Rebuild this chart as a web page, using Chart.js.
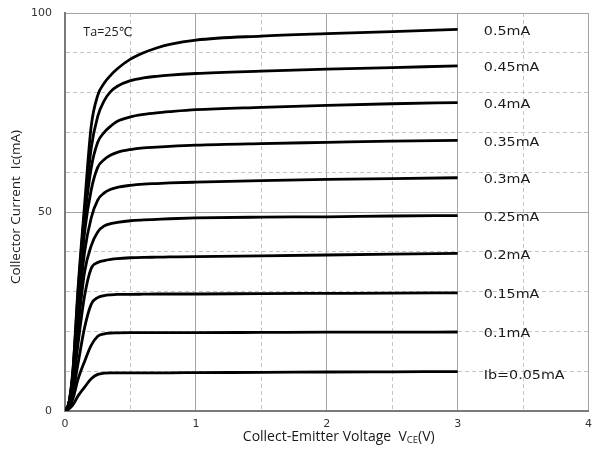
<!DOCTYPE html>
<html>
<head>
<meta charset="utf-8">
<script src="https://cdn.jsdelivr.net/npm/chart.js@4.4.0/dist/chart.umd.min.js"></script>
<style>
  html, body { margin: 0; padding: 0; background: #fff; }
  #wrap { width: 592px; height: 458px; }
</style>
</head>
<body>
<div id="wrap"><canvas id="ibChart" width="592" height="458"></canvas></div>
<script>
// Collector-emitter voltage (V) sample points
var vce = [0, 0.03, 0.06, 0.1, 0.15, 0.2, 0.25, 0.3, 0.35, 0.4, 0.5, 0.6, 0.7, 0.8, 1, 1.5, 2, 2.5, 3];

// Collector current (mA) for each base current
var ic005 = [0, 0.5, 1.5, 3.8, 6, 8.1, 9.2, 9.5, 9.6, 9.6, 9.6, 9.6, 9.6, 9.6, 9.65, 9.7, 9.8, 9.85, 9.9];
var ic010 = [0, 0.8, 3, 8, 12.5, 16.5, 18.8, 19.4, 19.6, 19.65, 19.7, 19.7, 19.7, 19.7, 19.7, 19.75, 19.8, 19.8, 19.85];
var ic015 = [0, 1.2, 4.5, 12, 21, 26.8, 28.5, 29, 29.2, 29.3, 29.3, 29.35, 29.4, 29.4, 29.4, 29.5, 29.55, 29.6, 29.7];
var ic020 = [0, 1.5, 6, 17, 29, 35.8, 37.3, 37.8, 38.1, 38.3, 38.5, 38.6, 38.65, 38.7, 38.8, 39.0, 39.2, 39.4, 39.6];
var ic025 = [0, 1.8, 7, 21, 35, 41.5, 45, 46.5, 47.1, 47.4, 47.8, 48, 48.15, 48.3, 48.5, 48.7, 48.8, 49, 49.1];
var ic030 = [0, 2, 8, 24, 40, 48.5, 53, 54.8, 55.7, 56.2, 56.7, 57, 57.15, 57.3, 57.5, 57.9, 58.2, 58.4, 58.6];
var ic035 = [0, 2, 9, 26, 45, 55.5, 61.2, 63.2, 64.3, 65, 65.7, 66.1, 66.3, 66.5, 66.8, 67.2, 67.5, 67.8, 68.0];
var ic040 = [0, 2, 9, 28, 48, 61, 67.5, 70, 71.6, 72.8, 73.9, 74.5, 74.9, 75.2, 75.7, 76.3, 76.8, 77.2, 77.5];
var ic045 = [0, 2, 10, 30, 50, 66, 74, 78, 80.3, 81.6, 83, 83.7, 84.1, 84.4, 84.8, 85.4, 85.9, 86.3, 86.7];
var ic050 = [0, 2, 10, 31, 52, 71.5, 79.3, 82.4, 84.4, 86, 88.4, 90, 91.2, 92.1, 93.2, 94.2, 94.8, 95.3, 95.9];

var series = [ic005, ic010, ic015, ic020, ic025, ic030, ic035, ic040, ic045, ic050];
var ibLabels = ['Ib=0.05mA', '0.1mA', '0.15mA', '0.2mA', '0.25mA', '0.3mA', '0.35mA', '0.4mA', '0.45mA', '0.5mA'];
var xTicks = [0, 1, 2, 3, 4];
var yTicks = [0, 50, 100];

var datasets = [];
for (var i = 0; i < series.length; i++) {
	var pts = [];
	for (var j = 0; j < vce.length; j++) {
		pts.push({x: vce[j], y: series[i][j]});
	}
	datasets.push({
		label: ibLabels[i],
		data: pts,
		borderColor: '#000',
		borderWidth: 2.8,
		pointRadius: 0,
		fill: false,
		cubicInterpolationMode: 'monotone'
	});
}

var txtFont = '"Open Sans", "DejaVu Sans", sans-serif';

var textPlugin = {
	id: 'texts',
	afterDraw: function(chart) {
		var ctx = chart.ctx;
		var xs = chart.scales.x, ys = chart.scales.y;
		var area = chart.chartArea;
		ctx.save();
		ctx.fillStyle = '#1a1a1a';
		ctx.textBaseline = 'middle';
		ctx.textAlign = 'left';

		// curve labels (slightly wide lettering as in the original)
		ctx.font = '13px "DejaVu Sans"';
		for (var i = 0; i < series.length; i++) {
			var last = series[i][series[i].length - 1];
			var off = i === 0 ? -0.9 : -0.5;
			ctx.save();
			ctx.translate(xs.getPixelForValue(3.2), ys.getPixelForValue(last + off));
			ctx.scale(1.1, 1);
			ctx.fillText(ibLabels[i], 0, 0);
			ctx.restore();
		}
		ctx.font = '12.5px ' + txtFont;
		ctx.fillText('Ta=25\u2103', xs.getPixelForValue(0.14), ys.getPixelForValue(95));

		// x axis title with subscript
		var a = 'Collect-Emitter Voltage  V', b = 'CE', c = '(V)';
		ctx.font = '14px ' + txtFont;
		var wa = ctx.measureText(a).width, wc = ctx.measureText(c).width;
		ctx.font = '9.5px ' + txtFont;
		var wb = ctx.measureText(b).width;
		var x0 = (area.left + area.right) / 2 + 12 - (wa + wb + wc) / 2;
		var yt = 437;
		ctx.font = '14px ' + txtFont;
		ctx.fillText(a, x0, yt);
		ctx.font = '9.5px ' + txtFont;
		ctx.fillText(b, x0 + wa, yt + 3);
		ctx.font = '14px ' + txtFont;
		ctx.fillText(c, x0 + wa + wb, yt);

		// y axis title
		ctx.translate(16, (area.top + area.bottom) / 2 - 5);
		ctx.rotate(-Math.PI / 2);
		ctx.textAlign = 'center';
		ctx.font = '13.5px ' + txtFont;
		ctx.fillText('Collector Current  Ic(mA)', 0, 0);
		ctx.restore();
	}
};

function isMajor(v, list) {
	return list.indexOf(v) >= 0;
}

var ibChart = new Chart(document.getElementById('ibChart'), {
	type: 'line',
	data: { datasets: datasets },
	plugins: [textPlugin],
	options: {
		responsive: false,
		animation: false,
		layout: { padding: { top: 13, right: 3, left: 0, bottom: 0 } },
		plugins: {
			legend: { display: false },
			tooltip: { enabled: false }
		},
		scales: {
			x: {
				type: 'linear',
				min: 0,
				max: 4,
				afterFit: function(scale) { scale.height = 47; },
				ticks: {
					stepSize: 0.5,
					padding: 0,
					color: '#333',
					font: { family: 'DejaVu Sans', size: 11 },
					callback: function(v) { return isMajor(v, xTicks) ? v : ''; }
				},
				grid: {
					drawTicks: true,
					tickLength: 7,
					tickColor: 'rgba(0,0,0,0)',
					lineWidth: 1,
					color: function(ctx) {
						return ctx.tick && isMajor(ctx.tick.value, xTicks) ? '#a3a3a3' : '#c4c4c4';
					}
				},
				border: {
					color: '#7a7a7a',
					width: 2,
					dash: function(ctx) {
						return ctx.tick && !isMajor(ctx.tick.value, xTicks) ? [4, 3] : [];
					}
				}
			},
			y: {
				type: 'linear',
				min: 0,
				max: 100,
				afterFit: function(scale) { scale.width = 65; },
				ticks: {
					stepSize: 10,
					padding: 0,
					color: '#333',
					font: { family: 'DejaVu Sans', size: 11 },
					callback: function(v) { return isMajor(v, yTicks) ? v : ''; }
				},
				grid: {
					drawTicks: true,
					tickLength: 13,
					tickColor: 'rgba(0,0,0,0)',
					lineWidth: 1,
					color: function(ctx) {
						return ctx.tick && isMajor(ctx.tick.value, yTicks) ? '#a3a3a3' : '#c4c4c4';
					}
				},
				border: {
					color: '#7a7a7a',
					width: 2,
					dash: function(ctx) {
						return ctx.tick && !isMajor(ctx.tick.value, yTicks) ? [4, 3] : [];
					}
				}
			}
		}
	}
});
</script>
</body>
</html>
